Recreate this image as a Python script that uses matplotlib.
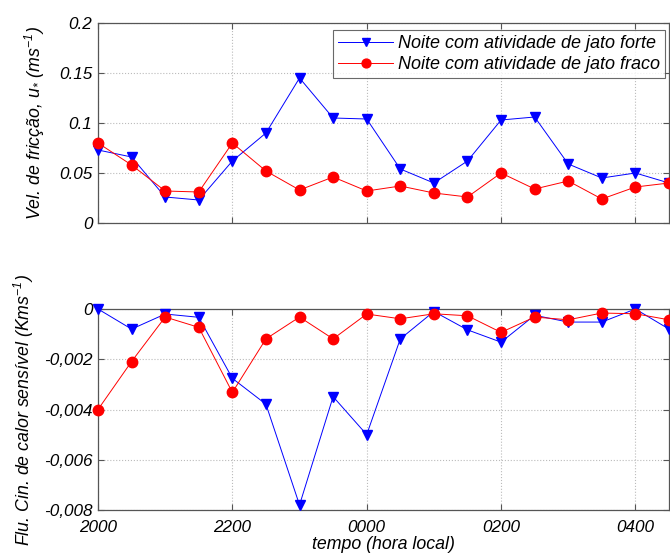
import matplotlib
matplotlib.use("Agg")
import matplotlib.pyplot as plt

plt.rcParams['font.family'] = ['Liberation Sans', 'DejaVu Sans']
plt.rcParams['font.style'] = 'italic'
plt.rcParams['mathtext.fontset'] = 'custom'
plt.rcParams['mathtext.rm'] = 'Liberation Sans:italic'
plt.rcParams['mathtext.it'] = 'Liberation Sans:italic'
plt.rcParams['axes.unicode_minus'] = False

# half-hourly times, hours after 20:00
hours = [0, 0.5, 1, 1.5, 2, 2.5, 3, 3.5, 4, 4.5, 5, 5.5, 6, 6.5, 7, 7.5, 8, 8.5]

ustar_forte = [0.073, 0.066, 0.026, 0.023, 0.062, 0.090, 0.145, 0.105, 0.104,
               0.054, 0.040, 0.062, 0.103, 0.106, 0.059, 0.045, 0.050, 0.040]
ustar_fraco = [0.080, 0.058, 0.032, 0.031, 0.080, 0.052, 0.033, 0.046, 0.032,
               0.037, 0.030, 0.026, 0.050, 0.034, 0.042, 0.024, 0.036, 0.040]

hflux_forte = [0.0, -0.0008, -0.0002, -0.00033, -0.00276, -0.00379, -0.0078, -0.00349,
               -0.0050, -0.00119, -0.0001, -0.00083, -0.00132, -0.00025, -0.00052,
               -0.00052, 0.0, -0.0008]
hflux_fraco = [-0.0040, -0.00209, -0.00032, -0.00073, -0.00332, -0.00119, -0.00032,
               -0.00119, -0.0002, -0.00039, -0.00019, -0.00027, -0.00093, -0.00032,
               -0.00043, -0.00016, -0.00019, -0.00043]

x_ticks = [0, 2, 4, 6, 8]
x_ticklabels = ['2000', '2200', '0000', '0200', '0400']
top_yticks = [0, 0.05, 0.1, 0.15, 0.2]
top_yticklabels = ['0', '0.05', '0.1', '0.15', '0.2']
bot_yticks = [0, -0.002, -0.004, -0.006, -0.008]
bot_yticklabels = ['0', '-0,002', '-0,004', '-0,006', '-0,008']

label_forte = 'Noite com atividade de jato forte'
label_fraco = 'Noite com atividade de jato fraco'

W, H = 670, 556
fig = plt.figure(figsize=(W / 100, H / 100), dpi=100)

left, right = 98, 669
ax1 = fig.add_axes([left / W, 1 - 223 / H, (right - left) / W, 200 / H])
ax2 = fig.add_axes([left / W, 1 - 510 / H, (right - left) / W, 201 / H])

spine_col = '#555555'
fs_tick = 12.3
fs_lab = 12.8

for ax in (ax1, ax2):
    ax.set_xlim(0, 8.5)
    ax.set_xticks(x_ticks)
    ax.grid(True, linestyle=':', color='#bbbbbb', linewidth=0.8)
    ax.set_axisbelow(True)
    ax.tick_params(direction='in', top=True, right=True, length=4,
                   color=spine_col, labelsize=fs_tick, pad=4)
    for s in ax.spines.values():
        s.set_color(spine_col)
        s.set_linewidth(0.9)

# friction velocity
ax1.plot(hours, ustar_forte, color='blue', lw=0.7, marker='v', ms=7.5,
         clip_on=False, zorder=3, label=label_forte)
ax1.plot(hours, ustar_fraco, color='red', lw=0.7, marker='o', ms=7.5,
         clip_on=False, zorder=3, label=label_fraco)
ax1.set_ylim(0, 0.2)
ax1.set_yticks(top_yticks)
ax1.set_yticklabels(top_yticklabels)
ax1.set_xticklabels([])
ax1.set_ylabel(r'Vel. de fricção, u$_{*}$ (ms$^{-1}$)', fontsize=fs_lab, labelpad=9)
leg = ax1.legend(loc='upper left', bbox_to_anchor=(235 / (right - left), 0.965),
                 fontsize=13, frameon=True, fancybox=False, borderpad=0.3,
                 labelspacing=0.2, handlelength=3.0, handletextpad=0.3,
                 borderaxespad=0, markerscale=0.85)
leg.get_frame().set_edgecolor('#444444')
leg.get_frame().set_linewidth(0.8)

# sensible heat flux
ax2.plot(hours, hflux_forte, color='blue', lw=0.7, marker='v', ms=7.5,
         clip_on=False, zorder=3)
ax2.plot(hours, hflux_fraco, color='red', lw=0.7, marker='o', ms=7.5,
         clip_on=False, zorder=3)
ax2.set_ylim(-0.008, 0)
ax2.set_yticks(bot_yticks)
ax2.set_yticklabels(bot_yticklabels)
ax2.set_xticklabels(x_ticklabels)
ax2.tick_params(axis='x', pad=7)
ax2.set_ylabel(r'Flu. Cin. de calor sensível (Kms$^{-1}$)', fontsize=fs_lab, labelpad=6)
ax2.set_xlabel('tempo (hora local)', fontsize=fs_lab, labelpad=1)

fig.savefig('out.png', dpi=100)
